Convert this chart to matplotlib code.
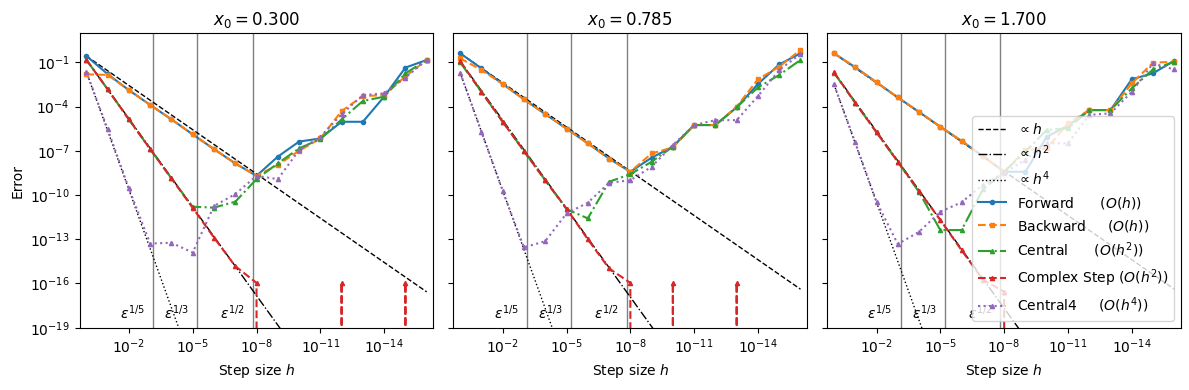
import numpy as np
import matplotlib
matplotlib.use("Agg")
import matplotlib.pyplot as plt

# step sizes h = 1 ... 1e-16
h = [1e0, 1e-1, 1e-2, 1e-3, 1e-4, 1e-5, 1e-6, 1e-7, 1e-8,
     1e-9, 1e-10, 1e-11, 1e-12, 1e-13, 1e-14, 1e-15, 1e-16]

x0_list = [0.300, 0.785, 1.700]

#----------------------------------------------------#
# errors, one list per method and panel
fwd1 = [2.7e-1, 1.6e-2, 1.3e-3, 1.3e-4, 1.35e-5, 1.3e-6, 1.3e-7, 1.4e-8, 2.0e-9,
        4.0e-8, 4.2e-7, 6.9e-7, 9.3e-6, 9.3e-6, 4.7e-4, 4.4e-2, 1.45e-1]
bwd1 = [1.55e-2, 1.4e-2, 1.3e-3, 1.3e-4, 1.35e-5, 1.3e-6, 1.3e-7, 1.4e-8, 2.0e-9,
        1.1e-8, 1.0e-7, 6.9e-7, 5.0e-5, 5.1e-4, 6.0e-4, 1.1e-2, 1.45e-1]
cen1 = [1.5e-1, 1.5e-3, 1.35e-5, 1.3e-7, 1.35e-9, 1.6e-11, 1.4e-11, 3.5e-11, 1.2e-9,
        1.4e-8, 1.45e-7, 6.3e-7, 1.35e-5, 2.4e-4, 4.7e-4, 1.8e-2, 1.45e-1]
cs1 = [1.5e-1, 1.5e-3, 1.35e-5, 1.3e-7, 1.35e-9, 1.35e-11, 1.3e-13, 1.5e-15, 1.1e-16,
       0.0, 0.0, 0.0, 1.1e-16, 0.0, 0.0, 1.1e-16, 0.0]
c4_1 = [2.3e-2, 3.0e-6, 2.8e-10, 5.1e-14, 5.8e-14, 1.25e-14, 1.8e-11, 1.15e-10, 2.0e-9,
        1.2e-9, 1.1e-7, 8.9e-7, 3.0e-5, 6.0e-4, 7.9e-4, 9.1e-3, 1.45e-1]

fwd2 = [4.1e-1, 3.9e-2, 3.4e-3, 3.1e-4, 3.1e-5, 3.2e-6, 3.2e-7, 3.0e-8, 3.8e-9,
        3.4e-8, 1.9e-7, 5.6e-6, 5.6e-6, 8.9e-5, 3.4e-3, 7.2e-2, 4.1e-1]
bwd2 = [1.9e-1, 3.0e-2, 3.4e-3, 3.1e-4, 3.1e-5, 3.2e-6, 3.2e-7, 3.0e-8, 3.8e-9,
        6.6e-8, 1.7e-7, 5.6e-6, 5.6e-6, 1.0e-4, 7.1e-3, 5.1e-2, 6.9e-1]
cen2 = [1.0e-1, 1.0e-3, 9.3e-6, 9.5e-8, 1.0e-9, 1.1e-11, 2.6e-12, 7.9e-10, 2.6e-9,
        1.8e-8, 1.9e-7, 5.6e-6, 5.6e-6, 8.9e-5, 2.0e-3, 1.4e-2, 1.45e-1]
cs2 = [1.2e-1, 1.0e-3, 9.3e-6, 9.5e-8, 1.0e-9, 1.2e-11, 1.0e-13, 1.05e-15, 1.1e-16,
       0.0, 1.1e-16, 0.0, 0.0, 1.1e-16, 0.0, 0.0, 0.0]
c4_2 = [2.0e-2, 1.95e-6, 1.9e-10, 2.8e-14, 7.4e-14, 5.6e-12, 3.0e-11, 6.8e-10, 1.0e-9,
        8.3e-9, 2.5e-7, 5.6e-6, 1.2e-5, 1.2e-5, 5.1e-4, 3.0e-2, 3.7e-1]

fwd3 = [4.1e-1, 4.6e-2, 4.4e-3, 4.2e-4, 4.3e-5, 4.3e-6, 4.6e-7, 4.4e-8, 3.8e-9,
        3.8e-9, 8.9e-7, 5.0e-6, 5.8e-5, 5.8e-5, 7.1e-3, 1.8e-2, 1.3e-1]
bwd3 = [4.1e-1, 4.6e-2, 4.4e-3, 4.2e-4, 4.3e-5, 4.3e-6, 4.6e-7, 4.4e-8, 3.8e-9,
        1.1e-7, 1.45e-7, 7.2e-6, 5.8e-5, 5.8e-5, 3.7e-3, 9.5e-2, 1.1e-1]
cen3 = [2.0e-2, 1.8e-4, 1.8e-6, 1.8e-8, 1.6e-10, 4.2e-13, 4.2e-13, 2.4e-10, 3.8e-9,
        8.7e-8, 2.6e-6, 3.3e-6, 5.8e-5, 5.8e-5, 1.7e-3, 3.3e-2, 1.1e-1]
cs3 = [2.1e-2, 1.8e-4, 1.8e-6, 1.8e-8, 1.9e-10, 2.0e-12, 1.8e-14, 1.8e-16, 2.8e-17,
       0.0, 0.0, 0.0, 0.0, 0.0, 0.0, 0.0, 0.0]
c4_3 = [3.2e-3, 3.7e-7, 3.5e-11, 4.7e-14, 3.2e-13, 7.4e-12, 3.2e-11, 5.0e-10, 3.2e-9,
        2.5e-8, 3.2e-7, 3.2e-7, 2.7e-5, 3.5e-5, 1.0e-3, 8.5e-2, 3.3e-2]

# reference slopes: end points at h=1 and h=1e-16
ref_h = [1e0, 1e-16]
ref_lin = [[2.7e-1, 2.7e-17], [4.1e-1, 4.1e-17], [4.1e-1, 4.1e-17]]
ref_quad = [[1.5e-1, 1.5e-33], [1.2e-1, 1.2e-33], [2.1e-2, 2.1e-34]]
ref_quart = [[2.3e-2, 2.3e-66], [2.0e-2, 2.0e-66], [3.2e-3, 3.2e-67]]

# machine eps powers for the vertical markers
eps_lines = [7.4e-4, 6.06e-6, 1.49e-8]
eps_labels = [r'$\varepsilon^{1/5}$', r'$\varepsilon^{1/3}$', r'$\varepsilon^{1/2}$']

errs = [[fwd1, bwd1, cen1, cs1, c4_1],
        [fwd2, bwd2, cen2, cs2, c4_2],
        [fwd3, bwd3, cen3, cs3, c4_3]]

methods = ['Forward      $(O(h))$', 'Backward     $(O(h))$', 'Central      $(O(h^2))$',
           'Complex Step $(O(h^2))$', 'Central4     $(O(h^4))$']
styles = ['-', '--', '-.', '--', ':']
markers = ['o', 's', '^', '^', '^']

fig, axes = plt.subplots(1, 3, figsize=(11.89, 3.9), dpi=100, sharey=True)

for i, ax in enumerate(axes):
    for e in eps_lines:
        ax.axvline(e, color='gray', lw=1)
    ax.loglog(ref_h, ref_lin[i], 'k--', lw=1, label=r'$\propto h$')
    ax.loglog(ref_h, ref_quad[i], 'k-.', lw=1, label=r'$\propto h^2$')
    ax.loglog(ref_h, ref_quart[i], 'k:', lw=1, label=r'$\propto h^4$')
    for j in range(5):
        ax.loglog(h, errs[i][j], styles[j], marker=markers[j], ms=3,
                  color='C%d' % j, label=methods[j])
    for e, lab in zip(eps_lines, eps_labels):
        ax.text(e * 2.4, 10**-18.6, lab, ha='right', va='bottom', fontsize=10)
    ax.set_xlim(10**0.32, 10**-16.3)
    ax.set_ylim(1e-19, 10**0.97)
    ax.set_xticks([1e-2, 1e-5, 1e-8, 1e-11, 1e-14])
    ax.set_yticks([1e-1, 1e-4, 1e-7, 1e-10, 1e-13, 1e-16, 1e-19])
    ax.minorticks_off()
    ax.set_xlabel('Step size $h$')
    ax.set_title('$x_0 = %.3f$' % x0_list[i])

axes[0].set_ylabel('Error')
axes[2].legend(loc='lower right')

plt.subplots_adjust(left=0.0669, right=0.993, top=0.9146, bottom=0.1597, wspace=0.0574)
plt.savefig('out.png')
